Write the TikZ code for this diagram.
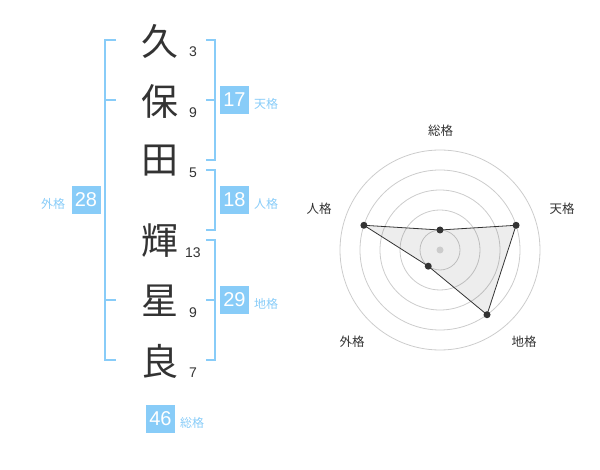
\documentclass[tikz,border=0pt]{standalone}
\usepackage{fontspec}
\usetikzlibrary{calc}
\setmainfont{Liberation Sans}
\newfontfamily\cjk{Noto Sans CJK JP}
\definecolor{ink}{HTML}{333333}
\definecolor{bblue}{HTML}{88CCF8}
\definecolor{ringc}{HTML}{CCCCCC}
\begin{document}
\begin{tikzpicture}[x=1pt,y=-1pt,
 kanji/.style={font=\cjk\fontsize{37}{37}\selectfont, text=ink, inner sep=0pt},
 strokenum/.style={font=\fontsize{14}{14}\selectfont, text=ink, inner sep=0pt},
 numbox/.style={fill=bblue, text=white, minimum width=29pt, minimum height=28pt, inner sep=0pt, font=\fontsize{20}{20}\selectfont},
 kaku/.style={font=\cjk\fontsize{12}{12}\selectfont, text=bblue, inner sep=0pt},
 brk/.style={draw=bblue, line width=2pt, line join=miter},
 rlabel/.style={font=\cjk\fontsize{12.5}{12.5}\selectfont, text=ink, inner sep=0pt},
 ringline/.style={draw=ringc, line width=0.8pt},
 dot/.style={circle, fill=ink, inner sep=0pt, minimum size=7pt},
]
\useasboundingbox (0,0) rectangle (600,470);
% name characters
\node[kanji] (k1) at (160,41) {久};
\node[kanji] (k2) at (160,101) {保};
\node[kanji] (k3) at (160,161) {田};
\node[kanji] (k4) at (160,241) {輝};
\node[kanji] (k5) at (160,301) {星};
\node[kanji] (k6) at (160,361) {良};
% stroke counts
\node[strokenum] (s1) at (193,52) {3};
\node[strokenum] (s2) at (193,112.5) {9};
\node[strokenum] (s3) at (193,172.5) {5};
\node[strokenum] (s4) at (193,252.5) {13};
\node[strokenum] (s5) at (193,312.5) {9};
\node[strokenum] (s6) at (193,372.5) {7};
% brackets
\draw[brk] (116,40) -- (105,40) -- (105,360) -- (116,360);
\draw[brk] (105,100) -- (116,100);
\draw[brk] (105,300) -- (116,300);
\draw[brk] (206,40) -- (215,40) -- (215,160) -- (206,160);
\draw[brk] (206,100) -- (215,100);
\draw[brk] (206,170) -- (215,170) -- (215,230) -- (206,230);
\draw[brk] (206,240) -- (215,240) -- (215,360) -- (206,360);
\draw[brk] (206,300) -- (215,300);
% totals
\node[numbox] (b17) at (234.5,100) {17};
\node[kaku] (l17) at (266,104) {天格};
\node[numbox] (b18) at (234.5,200) {18};
\node[kaku] (l18) at (266,204) {人格};
\node[numbox] (b29) at (234.5,300) {29};
\node[kaku] (l29) at (266,304) {地格};
\node[numbox] (b28) at (86,200) {28};
\node[kaku] (l28) at (53,204) {外格};
\node[numbox] (b46) at (160.5,419) {46};
\node[kaku] (l46) at (192,422.5) {総格};
% radar
\coordinate (c) at (440,250);
\foreach \r in {20,40,60,80,100} \draw[ringline] (c) circle[radius=\r pt];
\coordinate (pS) at ($(c)+(-90:20)$);
\coordinate (pT) at ($(c)+(-18:80)$);
\coordinate (pC) at ($(c)+(54:80)$);
\coordinate (pG) at ($(c)+(126:20)$);
\coordinate (pJ) at ($(c)+(198:80)$);
\draw[ink, line width=0.8pt, fill=black, fill opacity=0.07] (pS) -- (pT) -- (pC) -- (pG) -- (pJ) -- cycle;
\node[circle, fill=ringc, inner sep=0pt, minimum size=7pt] (cd) at (c) {};
\foreach \p in {pS,pT,pC,pG,pJ} \node[dot] at (\p) {};
\node[rlabel] (rS) at (440.5,131) {総格};
\node[rlabel] (rT) at (562,208.5) {天格};
\node[rlabel] (rJ) at (319,208.5) {人格};
\node[rlabel] (rC) at (524,342) {地格};
\node[rlabel] (rG) at (352,342) {外格};
\end{tikzpicture}
\end{document}
